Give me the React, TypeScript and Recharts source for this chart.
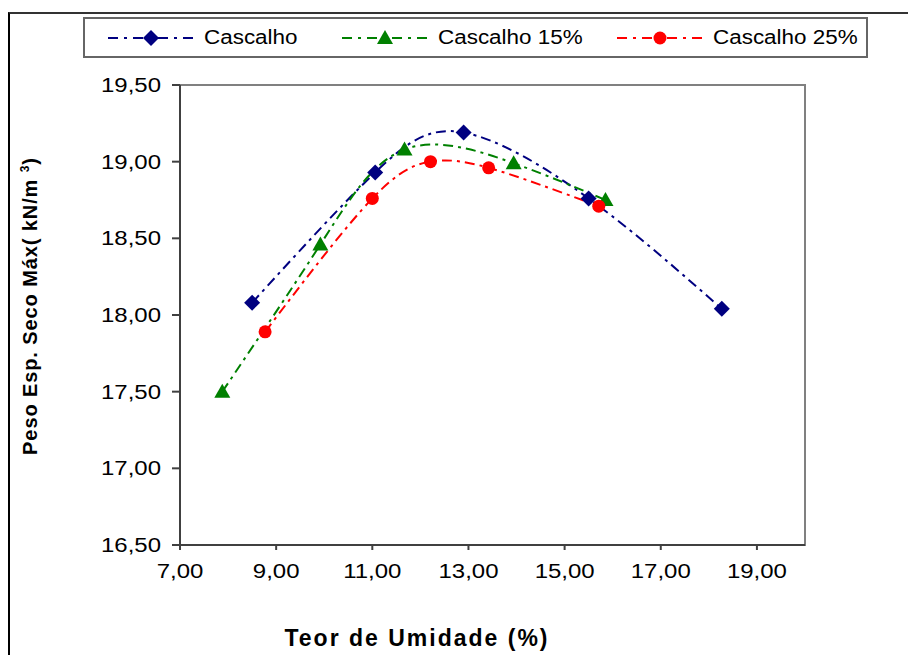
import React from "react";
import { LineChart, Line, XAxis, YAxis, ReferenceArea } from "recharts";

// Teor de umidade (%) x peso específico seco (kN/m³)
const cascalhoX = [8.5, 11.06, 12.9, 15.5, 18.27];
const cascalhoY = [18.08, 18.93, 19.19, 18.76, 18.04];

const cascalho15X = [7.88, 9.92, 11.67, 13.94, 15.85];
const cascalho15Y = [17.5, 18.46, 19.08, 18.99, 18.75];

const cascalho25X = [8.77, 11.0, 12.21, 13.42, 15.71];
const cascalho25Y = [17.89, 18.76, 19.0, 18.96, 18.71];

const xTicks = [7, 9, 11, 13, 15, 17, 19];
const yTicks = [16.5, 17, 17.5, 18, 18.5, 19, 19.5];

const toPoints = (xs: number[], ys: number[]) => xs.map((x, i) => ({ x, y: ys[i] }));

const fmt = (v: number) => v.toFixed(2).replace(".", ",");

const FONT = '"Liberation Sans", Arial, sans-serif';
const DASH = "10 5 3 5";
const STRETCH = 1.23;

const NAVY = "#000080";
const GREEN = "#008000";
const RED = "#FF0000";

const Diamond = ({ cx, cy, size = 8 }: any) => (
  <path d={`M${cx},${cy - size}L${cx + size},${cy}L${cx},${cy + size}L${cx - size},${cy}Z`} fill={NAVY} />
);
const Triangle = ({ cx, cy, size = 8 }: any) => (
  <path d={`M${cx},${cy - size}L${cx + size},${cy + size * 0.75}L${cx - size},${cy + size * 0.75}Z`} fill={GREEN} />
);
const Circle = ({ cx, cy, r = 6.5 }: any) => <circle cx={cx} cy={cy} r={r} fill={RED} />;

const series = [
  { name: "Cascalho", color: NAVY, data: toPoints(cascalhoX, cascalhoY), Marker: Diamond, left: 107 },
  { name: "Cascalho 15%", color: GREEN, data: toPoints(cascalho15X, cascalho15Y), Marker: Triangle, left: 341 },
  { name: "Cascalho 25%", color: RED, data: toPoints(cascalho25X, cascalho25Y), Marker: Circle, left: 616 },
];

const XTick = ({ x, y, payload }: any) => (
  <text
    transform={`translate(${x},${y}) scale(${STRETCH},1)`}
    textAnchor="middle"
    dy="0.71em"
    fontSize={19.5}
    fontFamily={FONT}
    fill="#000"
  >
    {fmt(payload.value)}
  </text>
);

const YTick = ({ x, y, payload }: any) => (
  <text
    transform={`translate(${x},${y}) scale(${STRETCH},1)`}
    textAnchor="end"
    dy="0.355em"
    fontSize={19.5}
    fontFamily={FONT}
    fill="#000"
  >
    {fmt(payload.value)}
  </text>
);

function LegendBox() {
  return (
    <div
      style={{
        position: "absolute",
        left: 83,
        top: 17,
        width: 785,
        height: 41,
        border: "2px solid #666",
        background: "#fff",
        fontFamily: FONT,
        fontSize: 19.5,
        boxSizing: "border-box",
      }}
    >
      {series.map((s) => (
        <div key={s.name} style={{ position: "absolute", left: s.left - 85, top: 0, height: 37 }}>
          <svg width={88} height={20} style={{ position: "absolute", left: 0, top: 9 }}>
            <line x1={1} y1={10} x2={87} y2={10} stroke={s.color} strokeWidth={2} strokeDasharray="10 6 3 6" />
            <s.Marker cx={44} cy={10} />
          </svg>
          <span
            style={{
              position: "absolute",
              left: 97,
              top: 7,
              whiteSpace: "nowrap",
              transform: "scaleX(1.15)",
              transformOrigin: "left center",
            }}
          >
            {s.name}
          </span>
        </div>
      ))}
    </div>
  );
}

export default function App() {
  return (
    <div style={{ position: "absolute", left: 0, top: 0, width: 908, height: 655, overflow: "hidden", background: "#fff" }}>
      <div
        style={{
          position: "absolute",
          left: 8,
          top: 12,
          width: 920,
          height: 660,
          borderTop: "2px solid #333",
          borderLeft: "2px solid #000",
        }}
      />
      <div style={{ position: "absolute", left: 0, top: 0 }}>
        <LineChart width={908} height={655} margin={{ top: 85, right: 103, bottom: 70, left: 100 }}>
          <XAxis
            type="number"
            dataKey="x"
            domain={[7, 20]}
            ticks={xTicks}
            allowDataOverflow
            height={40}
            tickSize={5}
            tickMargin={14}
            stroke="#404040"
            strokeWidth={2}
            tick={<XTick />}
          />
          <YAxis
            type="number"
            dataKey="y"
            domain={[16.5, 19.5]}
            ticks={yTicks}
            allowDataOverflow
            width={80}
            tickSize={8}
            tickMargin={11}
            stroke="#404040"
            strokeWidth={2}
            tick={<YTick />}
          />
          <ReferenceArea x1={7} x2={20} y1={16.5} y2={19.5} fill="none" stroke="#808080" strokeWidth={2} />
          {series.map((s) => (
            <Line
              key={s.name}
              data={s.data}
              dataKey="y"
              type="natural"
              stroke={s.color}
              strokeWidth={2}
              strokeDasharray={DASH}
              isAnimationActive={false}
              dot={(p: any) => <s.Marker key={`${s.name}-${p.index}`} cx={p.cx} cy={p.cy} />}
              activeDot={false}
            />
          ))}
        </LineChart>
      </div>
      <LegendBox />
      <div
        style={{
          position: "absolute",
          left: 30,
          top: 306,
          transform: "translate(-50%, -50%) rotate(-90deg)",
          whiteSpace: "nowrap",
          fontFamily: FONT,
          fontWeight: "bold",
          fontSize: 20,
          letterSpacing: 0.9,
        }}
      >
        Peso Esp. Seco Máx( kN/m <sup style={{ fontSize: 12 }}>3</sup>)
      </div>
      <div
        style={{
          position: "absolute",
          left: 417,
          top: 638,
          transform: "translate(-50%, -50%)",
          whiteSpace: "nowrap",
          fontFamily: FONT,
          fontWeight: "bold",
          fontSize: 23,
          letterSpacing: 2,
        }}
      >
        Teor de Umidade (%)
      </div>
    </div>
  );
}
